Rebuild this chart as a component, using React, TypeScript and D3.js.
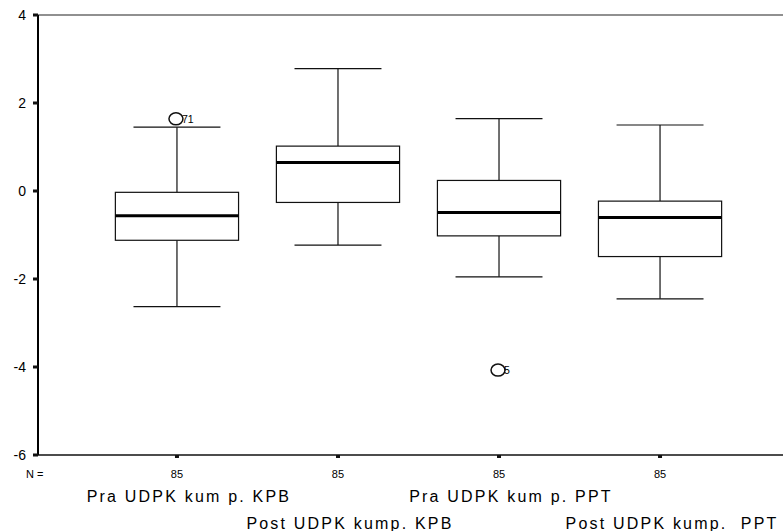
import React from "react";
import * as d3 from "d3";

// group names, bottom labels are staggered in two rows
const groups = ["Pra UDPK kum p. KPB", "Post UDPK kump. KPB", "Pra UDPK kum p. PPT", "Post UDPK kump.  PPT"];
const nValues = [85, 85, 85, 85];

// box statistics
const whiskerHigh = [1.45, 2.78, 1.645, 1.5];
const q3 = [-0.03, 1.02, 0.24, -0.23];
const medians = [-0.56, 0.645, -0.49, -0.6];
const q1 = [-1.12, -0.26, -1.02, -1.49];
const whiskerLow = [-2.63, -1.23, -1.95, -2.45];

// outliers
const outlierGroup = [0, 2];
const outlierValue = [1.64, -4.07];
const outlierLabel = ["71", "5"];

const yTicks = [-6, -4, -2, 0, 2, 4];

const W = 783;
const H = 531;
const left = 38;
const top = 15;
const bottom = 455;

const App = () => {
  const y = d3.scaleLinear().domain([-6, 4]).range([bottom, top]);
  const x = d3.scalePoint<string>().domain(groups).range([left, 799]).padding(0.863);
  const step = x.step();
  const boxW = step * 0.765;
  const capW = step * 0.54;
  const font = "Arial, 'Liberation Sans', sans-serif";

  return (
    <svg width={W} height={H} style={{ position: "absolute", left: 0, top: 0, background: "#fff" }} fontFamily={font}>
      {/* frame lines */}
      <line x1={left} x2={W} y1={top} y2={top} stroke="#222" strokeWidth={1.2} />
      <line x1={left} x2={W} y1={bottom} y2={bottom} stroke="#111" strokeWidth={1.5} />
      <line x1={left} x2={left} y1={top} y2={bottom} stroke="#000" strokeWidth={2} />

      {/* y ticks */}
      {yTicks.map(t => (
        <g key={t}>
          <rect x={left - 5} y={y(t) - 1.5} width={5} height={3} fill="#111" />
          <text x={left - 12} y={y(t) + 5} textAnchor="end" fontSize={14} fill="#000">{t}</text>
        </g>
      ))}

      {/* x ticks and N counts */}
      <text x={26} y={478} fontSize={11} fill="#000">N =</text>
      {groups.map((g, i) => (
        <g key={"n" + i}>
          <rect x={x(g)! - 2} y={bottom} width={4} height={3} fill="#111" />
          <text x={x(g)!} y={478} textAnchor="middle" fontSize={11} fill="#000">{nValues[i]}</text>
        </g>
      ))}

      {/* boxes */}
      {groups.map((g, i) => {
        const cx = x(g)!;
        return (
          <g key={"b" + i} stroke="#111" fill="none">
            <line x1={cx} x2={cx} y1={y(whiskerHigh[i])} y2={y(q3[i])} strokeWidth={1.2} />
            <line x1={cx} x2={cx} y1={y(q1[i])} y2={y(whiskerLow[i])} strokeWidth={1.2} />
            <line x1={cx - capW / 2} x2={cx + capW / 2} y1={y(whiskerHigh[i])} y2={y(whiskerHigh[i])} strokeWidth={1.2} />
            <line x1={cx - capW / 2} x2={cx + capW / 2} y1={y(whiskerLow[i])} y2={y(whiskerLow[i])} strokeWidth={1.2} />
            <rect x={cx - boxW / 2} y={y(q3[i])} width={boxW} height={y(q1[i]) - y(q3[i])} fill="#fff" strokeWidth={1.2} />
            <line x1={cx - boxW / 2} x2={cx + boxW / 2} y1={y(medians[i])} y2={y(medians[i])} stroke="#000" strokeWidth={3} />
          </g>
        );
      })}

      {/* outliers */}
      {outlierGroup.map((gi, k) => {
        const cx = x(groups[gi])!;
        const cy = y(outlierValue[k]);
        return (
          <g key={"o" + k}>
            <ellipse cx={cx - 1} cy={cy} rx={7} ry={6} fill="none" stroke="#111" strokeWidth={1.5} />
            <text x={cx + 5} y={cy + 4} fontSize={10.5} fill="#000">{outlierLabel[k]}</text>
          </g>
        );
      })}

      {/* category labels, staggered */}
      {groups.map((g, i) => (
        <text
          key={"c" + i}
          x={x(g)! + 12}
          y={i % 2 === 0 ? 502 : 529}
          textAnchor="middle"
          fontSize={16}
          letterSpacing={2.2}
          fill="#000"
          style={{ whiteSpace: "pre" }}
        >
          {g}
        </text>
      ))}
    </svg>
  );
};

export default App;
